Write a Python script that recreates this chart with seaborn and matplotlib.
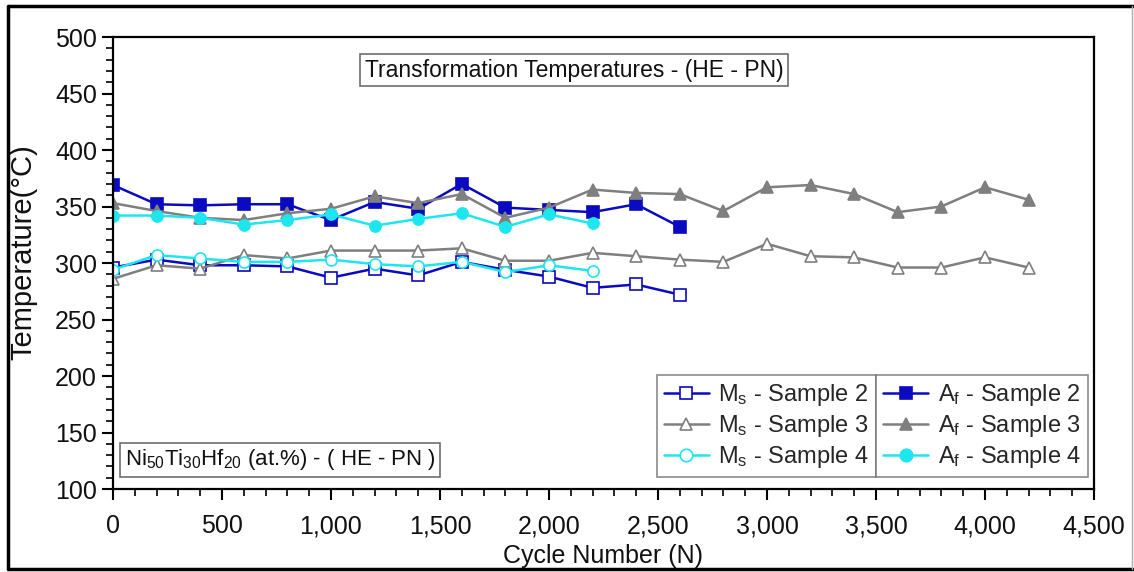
import numpy as np
import pandas as pd
import matplotlib
matplotlib.use("Agg")
import matplotlib.pyplot as plt
import matplotlib.ticker as mticker
from matplotlib.lines import Line2D
import seaborn as sns

# ---------------- data ----------------
cycles_s2 = [0, 200, 400, 600, 800, 1000, 1200, 1400, 1600, 1800, 2000, 2200, 2400, 2600]
cycles_s3 = [0, 200, 400, 600, 800, 1000, 1200, 1400, 1600, 1800, 2000, 2200, 2400, 2600,
             2800, 3000, 3200, 3400, 3600, 3800, 4000, 4200]
cycles_s4 = [0, 200, 400, 600, 800, 1000, 1200, 1400, 1600, 1800, 2000, 2200]

ms_s2 = [296, 303, 298, 298, 297, 287, 295, 289, 301, 294, 288, 278, 281, 272]
ms_s3 = [286, 298, 295, 307, 304, 311, 311, 311, 313, 302, 302, 309, 306, 303,
         301, 317, 306, 305, 296, 296, 305, 296]
ms_s4 = [294, 307, 304, 301, 301, 303, 299, 297, 301, 292, 298, 293]

af_s2 = [369, 352, 351, 352, 352, 338, 354, 348, 370, 349, 347, 345, 352, 332]
af_s3 = [353, 346, 340, 338, 344, 348, 359, 353, 361, 340, 349, 365, 362, 361,
         346, 367, 369, 361, 345, 350, 367, 356]
af_s4 = [342, 342, 340, 334, 338, 343, 333, 339, 344, 332, 343, 335]

labels = ["M$_s$ - Sample 2", "M$_s$ - Sample 3", "M$_s$ - Sample 4",
          "A$_f$ - Sample 2", "A$_f$ - Sample 3", "A$_f$ - Sample 4"]

# ---------------- style ----------------
sns.set_style("ticks")
plt.rcParams["font.family"] = ["Liberation Sans", "DejaVu Sans"]
plt.rcParams["mathtext.default"] = "regular"

BLUE = "#0a0ac0"
GREY = "#7f7f7f"
CYAN = "#1ee6ee"

fig = plt.figure(figsize=(11.34, 5.72), dpi=100)
ax = fig.add_axes([0.0996, 0.1451, 0.8651, 0.7902])

series = [
    (cycles_s2, ms_s2, BLUE, "s", "white", labels[0]),
    (cycles_s3, ms_s3, GREY, "^", "white", labels[1]),
    (cycles_s4, ms_s4, CYAN, "o", "white", labels[2]),
    (cycles_s2, af_s2, BLUE, "s", BLUE, labels[3]),
    (cycles_s3, af_s3, GREY, "^", GREY, labels[4]),
    (cycles_s4, af_s4, CYAN, "o", CYAN, labels[5]),
]

handles = []
for xs, ys, col, mk, fc, lab in series:
    df = pd.DataFrame({"x": xs, "y": ys})
    sns.lineplot(data=df, x="x", y="y", ax=ax, color=col, marker=mk,
                 markersize=8 if mk != "^" else 8.5, markerfacecolor=fc,
                 markeredgecolor=col, markeredgewidth=1.2, linewidth=1.8,
                 legend=False)
    handles.append(Line2D([], [], color=col, marker=mk, markersize=9,
                          markerfacecolor=fc, markeredgecolor=col,
                          markeredgewidth=1.2, linewidth=1.8, label=lab))

ax.set_xlim(0, 4500)
ax.set_ylim(100, 500)
ax.xaxis.set_major_locator(mticker.MultipleLocator(500))
ax.xaxis.set_minor_locator(mticker.MultipleLocator(100))
ax.yaxis.set_major_locator(mticker.MultipleLocator(50))
ax.yaxis.set_minor_locator(mticker.MultipleLocator(10))
ax.xaxis.set_major_formatter(mticker.FuncFormatter(lambda v, p: f"{v:,.0f}"))

ax.tick_params(axis="both", which="major", direction="out", length=8, width=1.5,
               labelsize=18, color="black", labelcolor="#111111")
ax.tick_params(axis="both", which="minor", direction="out", length=5, width=1.2,
               color="black")
ax.tick_params(axis="x", pad=10)
for s in ax.spines.values():
    s.set_visible(True)
    s.set_color("black")
    s.set_linewidth(1.6)

ax.set_xlabel("Cycle Number (N)", fontsize=18, color="#111111", labelpad=4)
ax.set_ylabel("Temperature(°C)", fontsize=21, color="#111111")
ax.yaxis.label.set_va("center")
ax.yaxis.set_label_coords(-0.091, 0.525)

leg_kw = dict(fontsize=17, frameon=True, fancybox=False, handlelength=1.9,
              handletextpad=0.4, borderpad=0.3, labelspacing=0.22,
              borderaxespad=0.0, edgecolor="#6e6e6e")
leg1 = ax.legend(handles=handles[:3], loc="lower right",
                 bbox_to_anchor=(0.778, 0.026), **leg_kw)
leg1.get_frame().set_linewidth(1.2)
ax.add_artist(leg1)
leg2 = ax.legend(handles=handles[3:], loc="lower right",
                 bbox_to_anchor=(0.994, 0.026), **leg_kw)
leg2.get_frame().set_linewidth(1.2)

box = dict(boxstyle="square,pad=0.2", facecolor="white", edgecolor="#6e6e6e", linewidth=1.2)
ax.text(0.47, 0.927, "Transformation Temperatures - (HE - PN)", transform=ax.transAxes,
        ha="center", va="center", fontsize=16.5, color="#111111", bbox=box)
ax.text(0.012, 0.065, "Ni$_{50}$Ti$_{30}$Hf$_{20}$ (at.%) - ( HE - PN )",
        transform=ax.transAxes, ha="left", va="center", fontsize=16,
        color="#111111", bbox=box)

# outer frame: black left/top/bottom, light grey right
fig.add_artist(Line2D([0.007, 0.007], [0.005, 0.989], transform=fig.transFigure,
                      color="black", linewidth=2.5))
fig.add_artist(Line2D([0.007, 1.0], [0.989, 0.989], transform=fig.transFigure,
                      color="black", linewidth=2.5))
fig.add_artist(Line2D([0.007, 1.0], [0.005, 0.005], transform=fig.transFigure,
                      color="black", linewidth=2.5))
fig.add_artist(Line2D([0.9985, 0.9985], [0.005, 0.989], transform=fig.transFigure,
                      color="#b0b0b0", linewidth=1.0))

fig.savefig("out.png", dpi=100)
